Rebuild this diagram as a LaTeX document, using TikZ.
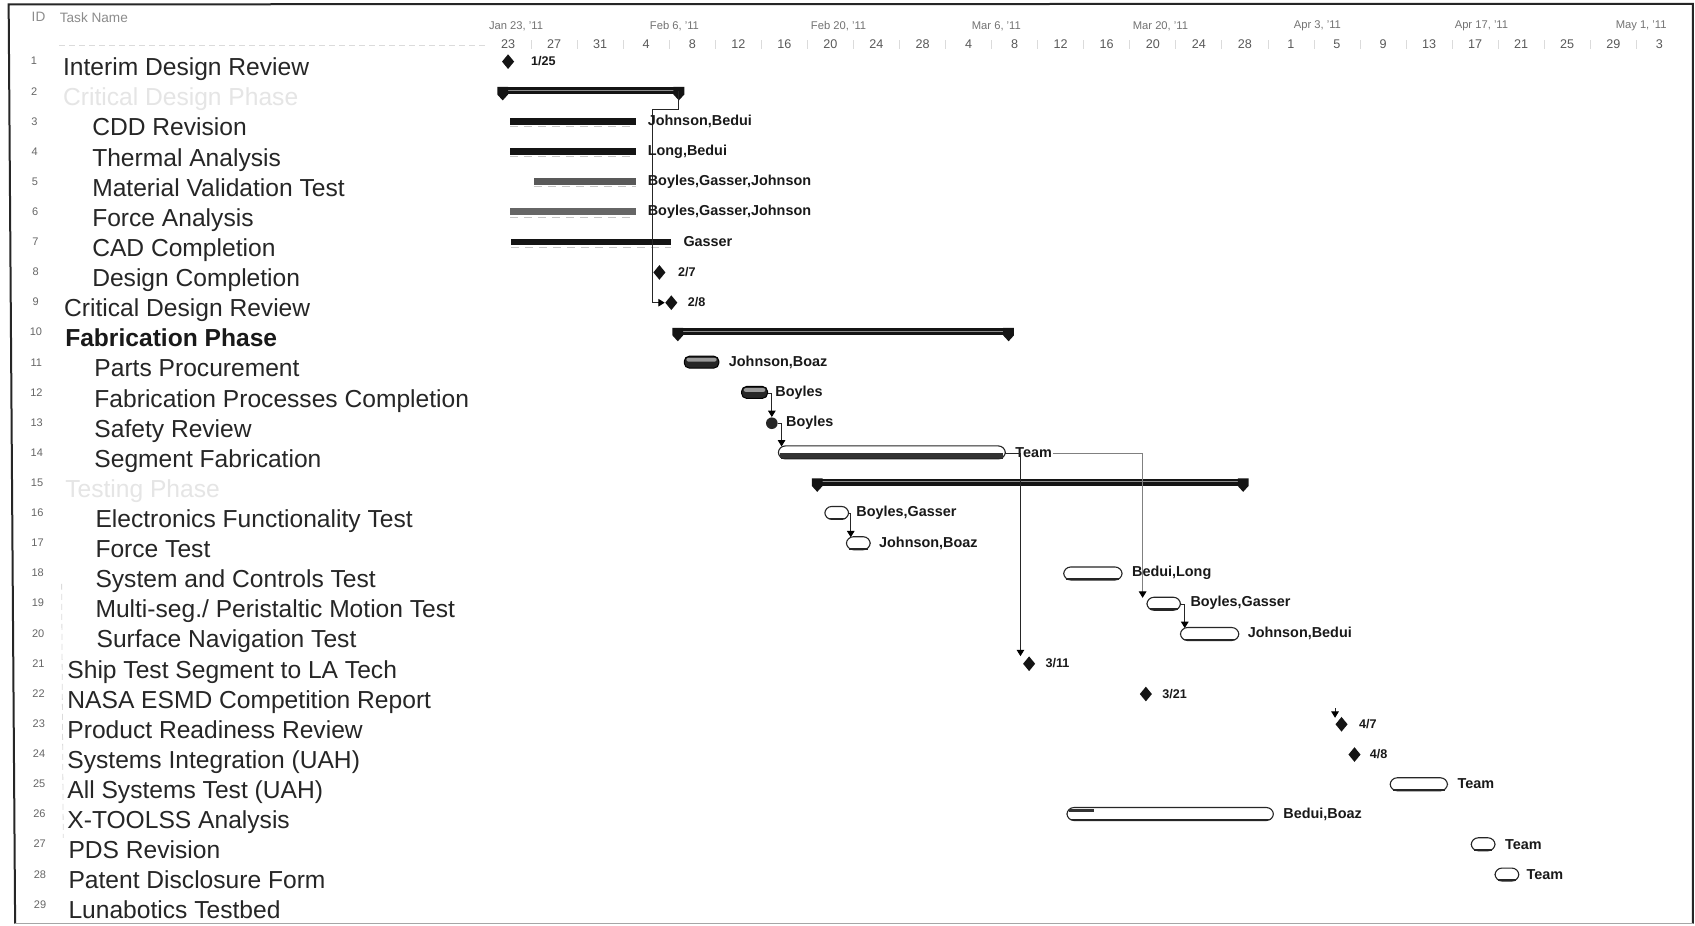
\documentclass[tikz,border=0pt]{standalone}
\usepackage{fontspec}
\setmainfont{Liberation Sans}
\usetikzlibrary{arrows.meta,shapes.geometric}

\newcommand\gtsum[4]{%
  \fill[sumbar] (#2,#4-3.5) rectangle (#3,#4+3);
  \draw[sumhl] (#2+3,#4-1) -- (#3-3,#4-1);
  \fill[sumbar] (#2-5,#4-4) -- (#2+5,#4-4) -- (#2+5,#4+3) -- (#2,#4+8.5) -- (#2-5,#4+3) -- cycle;
  \fill[sumbar] (#3-5,#4-4) -- (#3+5,#4-4) -- (#3+5,#4+3) -- (#3,#4+8.5) -- (#3-5,#4+3) -- cycle;
  \coordinate (#1s) at (#2,#4);
  \coordinate (#1e) at (#3,#4);}
\newcommand\gtdone[5]{%
  \fill[#5] (#2,#4-3) rectangle (#3,#4+3);
  \draw[donetex] (#2,#4+5) -- (#3,#4+5);
  \coordinate (#1s) at (#2,#4);
  \coordinate (#1e) at (#3,#4);}
\newcommand\gtopen[4]{%
  \draw[openbar] (#2,#4-6.5) rectangle (#3,#4+5.5);
  \draw[openbase] (#2+2.5,#4+4.6) -- (#3-2.5,#4+4.6);
  \coordinate (#1s) at (#2,#4);
  \coordinate (#1e) at (#3,#4);}
\newcommand\gtfull[4]{%
  \draw[fullbar] (#2,#4-6) rectangle (#3,#4+5);
  \fill[fullhl] (#2+2,#4-4.5) rectangle (#3-2,#4-1);
  \coordinate (#1s) at (#2,#4);
  \coordinate (#1e) at (#3,#4);}

\begin{document}
\begin{tikzpicture}[x=0.5405pt,y=-0.5405pt,
  task/.style={anchor=base west,inner sep=0,font=\fontsize{12.3}{14}\selectfont,text=black!85},
  phase/.style={task,font=\fontsize{12.3}{14}\selectfont\bfseries,text=black!90},
  faint/.style={task,text=black!10},
  idn/.style={inner sep=0,font=\fontsize{5.5}{6}\selectfont,text=black!60},
  hdr/.style={anchor=west,inner sep=0,font=\fontsize{6.8}{7}\selectfont,text=black!45},
  wk/.style={anchor=west,inner sep=0,font=\fontsize{5.6}{7}\selectfont,text=black!55},
  dy/.style={inner sep=0,font=\fontsize{6.3}{7}\selectfont,text=black!65},
  res/.style={anchor=west,inner sep=0.5pt,font=\fontsize{7.2}{8}\selectfont\bfseries,text=black!90},
  mlab/.style={anchor=west,inner sep=0.5pt,font=\fontsize{6.3}{7}\selectfont\bfseries,text=black!90},
  ms/.style={diamond,fill=black!92,inner sep=0,minimum width=6.2pt,minimum height=7.5pt},
  blob/.style={circle,fill=black!85,inner sep=0,minimum size=5.8pt},
  arr/.style={draw=black!85,line width=0.45pt,-{Triangle[length=3.2pt,width=3.8pt,color=black]}},
  arrg/.style={arr,draw=black!50},
  sumbar/.style={fill=black!92},
  sumhl/.style={draw=black!45,line width=0.5pt},
  donetex/.style={draw=black!22,line width=0.5pt,dash pattern=on 4pt off 3pt},
  openbar/.style={draw=black!85,line width=0.55pt,fill=white,rounded corners=3.5pt},
  openbase/.style={draw=black!85,line width=0.9pt},
  fullbar/.style={draw=black,fill=black!85,rounded corners=2.5pt,line width=0.5pt},
  fullhl/.style={fill=black!40,rounded corners=1pt},
  heavy/.style={fill=black!80},
  frame/.style={draw=black!85,line width=1pt},
  framelo/.style={draw=black!35,line width=0.6pt},
  gridl/.style={draw=black!14,line width=0.4pt,dash pattern=on 3pt off 2pt},
  tick/.style={draw=black!14,line width=0.4pt}]

\useasboundingbox (0,0) rectangle (1568,855.7);
\fill[white] (0,0) rectangle (1568,855.7);

% frame
\draw[frame] (14,854.5) -- (8,4) -- (1566,3.5) -- (1566,854.5);
\draw[framelo] (14,854.5) -- (1566,854.5);

% header
\node[hdr] (hid) at (29,16) {ID};
\node[hdr] (htn) at (55,16) {Task Name};
\draw[gridl] (55,42) -- (450,42);
\draw[gridl] (57,540) -- (58.5,775);

\foreach \w [count=\j from 0] in {{Jan 23, '11},{Feb 6, '11},{Feb 20, '11},{Mar 6, '11},{Mar 20, '11},{Apr 3, '11},{Apr 17, '11},{May 1, '11}}
  \node[wk] (w\j) at ({452+\j*148.9},24) {\w};
\foreach \d [count=\k from 0] in {23,27,31,4,8,12,16,20,24,28,4,8,12,16,20,24,28,1,5,9,13,17,21,25,29,3}
  \node[dy] (d\k) at ({470+\k*42.6},41) {\d};
\foreach \k in {0,...,24}
  \draw[tick] ({491.3+\k*42.6},37) -- ({491.3+\k*42.6},45);

% ID numbers
\foreach \i in {1,...,29}
  \node[idn] (n\i) at ({31.5+(\i-1)*0.2},{56.5+(\i-1)*27.86}) {\i};

% task names
\node[task]  (t1)  at (58,70)    {Interim Design Review};
\node[faint] (t2)  at (58,97.9)  {Critical Design Phase};
\node[task]  (t3)  at (85,125.7) {CDD Revision};
\node[task]  (t4)  at (85,153.6) {Thermal Analysis};
\node[task]  (t5)  at (85,181.4) {Material Validation Test};
\node[task]  (t6)  at (85,209.3) {Force Analysis};
\node[task]  (t7)  at (85,237.2) {CAD Completion};
\node[task]  (t8)  at (85,265.0) {Design Completion};
\node[task]  (t9)  at (59,292.9) {Critical Design Review};
\node[phase] (t10) at (60,320.7) {Fabrication Phase};
\node[task]  (t11) at (87,348.6) {Parts Procurement};
\node[task]  (t12) at (87,376.5) {Fabrication Processes Completion};
\node[task]  (t13) at (87,404.3) {Safety Review};
\node[task]  (t14) at (87,432.2) {Segment Fabrication};
\node[faint] (t15) at (60,460.0) {Testing Phase};
\node[task]  (t16) at (88,487.9) {Electronics Functionality Test};
\node[task]  (t17) at (88,515.8) {Force Test};
\node[task]  (t18) at (88,543.6) {System and Controls Test};
\node[task]  (t19) at (88,571.5) {Multi-seg./ Peristaltic Motion Test};
\node[task]  (t20) at (89,599.3) {Surface Navigation Test};
\node[task]  (t21) at (62,627.2) {Ship Test Segment to LA Tech};
\node[task]  (t22) at (62,655.1) {NASA ESMD Competition Report};
\node[task]  (t23) at (62,682.9) {Product Readiness Review};
\node[task]  (t24) at (62,710.8) {Systems Integration (UAH)};
\node[task]  (t25) at (62,738.6) {All Systems Test (UAH)};
\node[task]  (t26) at (62,766.5) {X-TOOLSS Analysis};
\node[task]  (t27) at (63,794.4) {PDS Revision};
\node[task]  (t28) at (63,822.2) {Patent Disclosure Form};
\node[task]  (t29) at (63,850.1) {Lunabotics Testbed};

% ---- chart ----
\gtsum{b2}{465}{628}{84.4}
\gtdone{b3}{472}{588}{112.2}{black!92}
\gtdone{b4}{472}{588}{140.1}{black!92}
\gtdone{b5}{494}{588}{167.9}{black!65}
\gtdone{b6}{472}{588}{195.8}{black!60}
\gtdone{b7}{473}{621}{223.7}{black!92}
\node[ms] (m1) at (470,57) {};
\node[ms] (m8) at (610,252) {};
\node[ms] (m9) at (621,280) {};

\gtsum{b10}{627}{933}{307.2}
\gtfull{b11}{633}{665}{335.5}
\gtfull{b12}{686}{710}{363.5}
\node[blob] (m13) at (714,391.5) {};
\gtopen{b14}{720}{930}{419}
\fill[heavy] (722,419) rectangle (928,424);

\gtsum{b15}{756}{1150}{446.5}
\gtopen{b16}{763}{785}{475}
\gtopen{b17}{783}{805}{503}
\gtopen{b18}{984}{1038}{531}
\gtopen{b19}{1061}{1092}{559}
\gtopen{b20}{1092}{1146}{587}

\node[ms] (m21) at (952,614) {};
\node[ms] (m22) at (1060,642) {};
\node[ms] (m23) at (1241,670) {};
\node[ms] (m24) at (1253,698) {};
\gtopen{b25}{1286}{1339}{726}
\gtopen{b26}{987}{1178}{753.5}
\fill[heavy] (989,748.5) rectangle (1012,751);
\gtopen{b27}{1361}{1383}{781.5}
\gtopen{b28}{1383}{1405}{809.5}

% connectors
\coordinate (k1)  at (604,101);
\coordinate (a14) at (723,413);
\coordinate (a17) at (787,497);
\coordinate (a19) at (1057,553);
\coordinate (a20) at (1096,581);
\coordinate (a21) at (944,607);
\coordinate (s23) at (1235,655);
\coordinate (a23) at (1235,664);

\draw[arr] (b2e) |- (k1) |- (m9.west);
\draw[arr] (b12e) -| (m13.north);
\draw[arr] (m13.east) -| (a14);
\draw[arrg] (b14e) -| (a19);
\draw[arr] (b16e) -| (a17);
\draw[arr] (b19e) -| (a20);
\draw[arr] (s23) -- (a23);

% labels
\node[mlab] (l1)  at (490,56.5)  {1/25};
\node[res]  (r3)  at (598,112.2) {Johnson,Bedui};
\node[res]  (r4)  at (598,140.1) {Long,Bedui};
\node[res]  (r5)  at (598,167.9) {Boyles,Gasser,Johnson};
\node[res]  (r6)  at (598,195.8) {Boyles,Gasser,Johnson};
\node[res]  (r7)  at (631,223.7) {Gasser};
\node[mlab] (l8)  at (626,251.5) {2/7};
\node[mlab] (l9)  at (635,279.4) {2/8};
\node[res]  (r11) at (673,335.1) {Johnson,Boaz};
\node[res]  (r12) at (716,363.0) {Boyles};
\node[res]  (r13) at (726,390.8) {Boyles};
\node[res,fill=white] (r14) at (938,418.7) {Team};
\draw[arr] (b14e) -| (a21);
\node[res]  (r16) at (791,474.4) {Boyles,Gasser};
\node[res]  (r17) at (812,502.3) {Johnson,Boaz};
\node[res]  (r18) at (1046,530.1) {Bedui,Long};
\node[res]  (r19) at (1100,558.0) {Boyles,Gasser};
\node[res]  (r20) at (1153,585.8) {Johnson,Bedui};
\node[mlab] (l21) at (966,613.7) {3/11};
\node[mlab] (l22) at (1074,641.6) {3/21};
\node[mlab] (l23) at (1256,669.4) {4/7};
\node[mlab] (l24) at (1266,697.3) {4/8};
\node[res]  (r25) at (1347,725.1) {Team};
\node[res]  (r26) at (1186,753.0) {Bedui,Boaz};
\node[res]  (r27) at (1391,780.9) {Team};
\node[res]  (r28) at (1411,808.7) {Team};
\end{tikzpicture}
\end{document}
